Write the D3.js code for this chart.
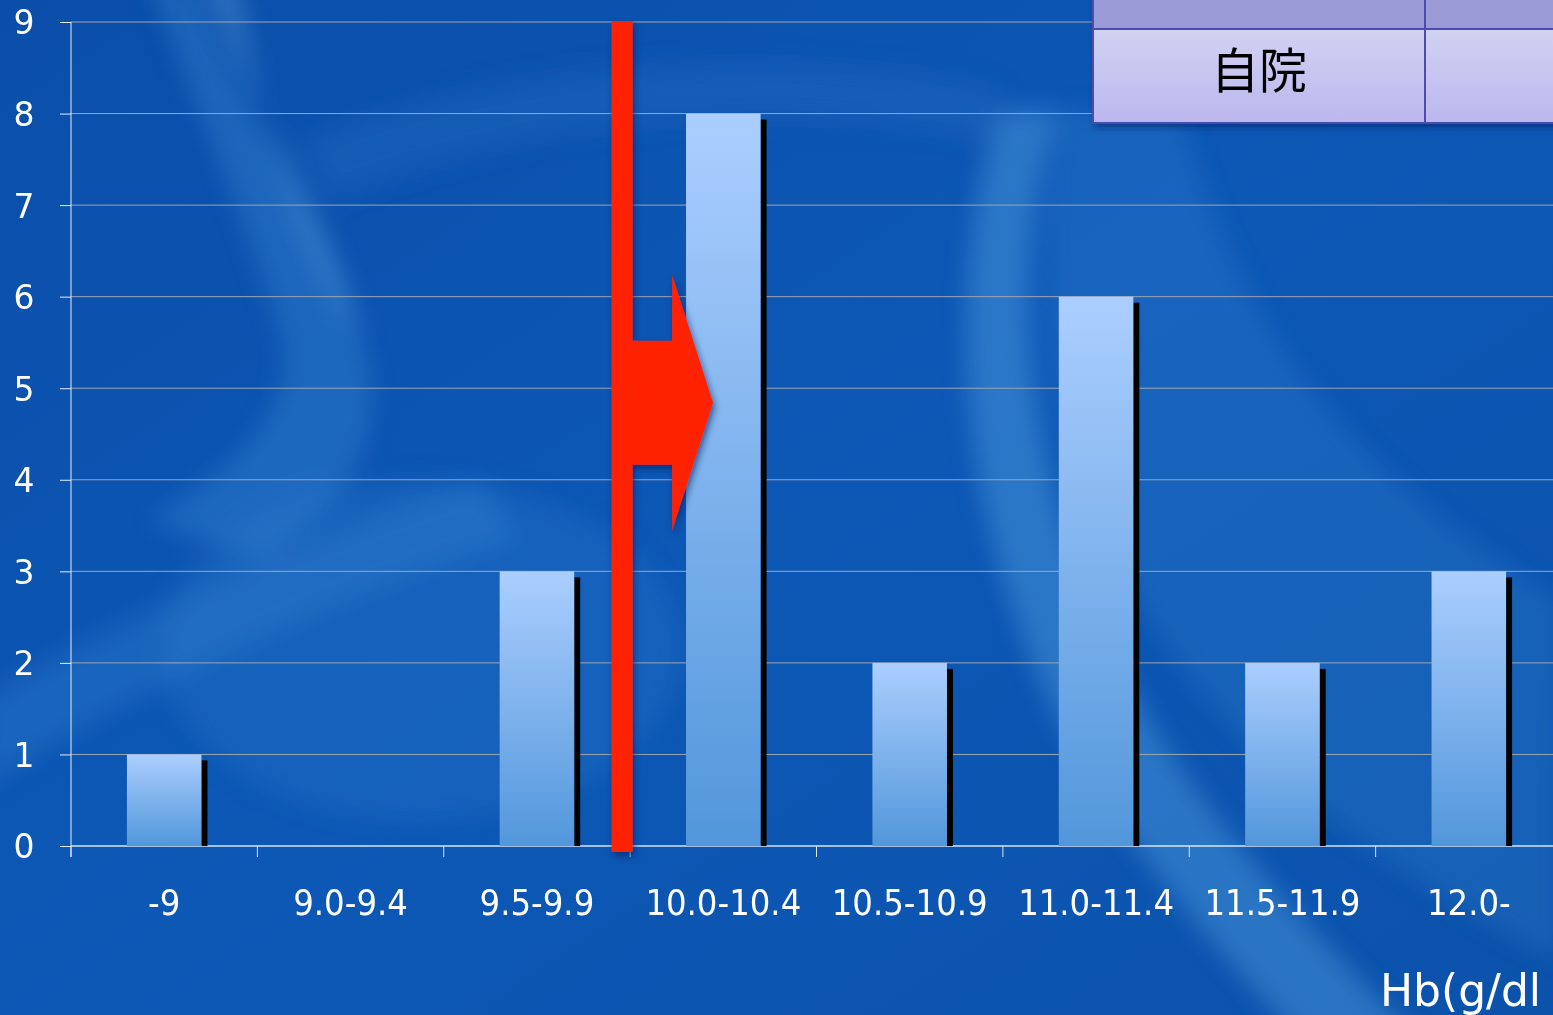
<!DOCTYPE html>
<html>
<head>
<meta charset="utf-8">
<script src="https://cdn.jsdelivr.net/npm/d3@7"></script>
<style>
  html, body { margin: 0; padding: 0; background: #0c56b2; overflow: hidden; }
  svg { display: block; }
</style>
</head>
<body>
<div id="chart"></div>
<script>
const categories = ["-9", "9.0-9.4", "9.5-9.9", "10.0-10.4", "10.5-10.9", "11.0-11.4", "11.5-11.9", "12.0-"];
const counts = [1, 0, 3, 8, 2, 6, 2, 3];
const yTicks = [0, 1, 2, 3, 4, 5, 6, 7, 8, 9];
const axisTitle = "Hb(g/dl";
const tableLabel = "自院";

const drawChart = () => {
  const size = { width: 1553, height: 1015 };
  const plot = { left: 71, right: 1562, top: 22, bottom: 846 };

  const svg = d3.select("#chart")
    .append("svg")
    .attr("width", size.width)
    .attr("height", size.height);

  const defs = svg.append("defs");
  const bg = defs.append("linearGradient").attr("id", "bg")
    .attr("x1", 0).attr("y1", 0).attr("x2", 1).attr("y2", 1);
  bg.append("stop").attr("offset", 0).attr("stop-color", "#0a4ea9");
  bg.append("stop").attr("offset", 0.5).attr("stop-color", "#0d58b6");
  bg.append("stop").attr("offset", 1).attr("stop-color", "#0b52ab");

  const barGrad = defs.append("linearGradient").attr("id", "bar")
    .attr("x1", 0).attr("y1", 0).attr("x2", 0).attr("y2", 1);
  barGrad.append("stop").attr("offset", 0).attr("stop-color", "#abcefe");
  barGrad.append("stop").attr("offset", 1).attr("stop-color", "#5297db");

  const rowGrad = defs.append("linearGradient").attr("id", "row")
    .attr("x1", 0).attr("y1", 0).attr("x2", 0).attr("y2", 1);
  rowGrad.append("stop").attr("offset", 0).attr("stop-color", "#d2d2f3");
  rowGrad.append("stop").attr("offset", 1).attr("stop-color", "#bbb7ee");

  const blur = defs.append("filter").attr("id", "blur")
    .attr("x", "-20%").attr("y", "-20%").attr("width", "140%").attr("height", "140%");
  blur.append("feGaussianBlur").attr("stdDeviation", 12);

  const shadow = defs.append("filter").attr("id", "shadow")
    .attr("x", "-10%").attr("y", "-10%").attr("width", "130%").attr("height", "140%");
  shadow.append("feDropShadow").attr("dx", 2).attr("dy", 4)
    .attr("stdDeviation", 3).attr("flood-color", "#002060").attr("flood-opacity", 0.6);

  // background with soft swirls
  svg.append("rect").attr("width", size.width).attr("height", size.height).attr("fill", "url(#bg)");
  const swirls = svg.append("g").attr("filter", "url(#blur)");
  swirls.append("path")
    .attr("d", "M190,-20 C240,120 330,220 365,350 C390,450 330,520 260,560 L150,520 C250,460 300,400 280,330 C250,230 200,120 150,-20 Z")
    .attr("fill", "#5fb0f0").attr("opacity", 0.22);
  swirls.append("path")
    .attr("d", "M200,-20 C260,120 340,240 360,340 C300,240 260,140 240,-20 Z")
    .attr("fill", "#8fd0ff").attr("opacity", 0.25);
  swirls.append("ellipse")
    .attr("cx", 420).attr("cy", 650).attr("rx", 260).attr("ry", 170)
    .attr("fill", "#2f80d0").attr("opacity", 0.25);
  swirls.append("path")
    .attr("d", "M-20,700 C150,600 350,520 480,480 L520,540 C380,580 150,680 -20,790 Z")
    .attr("fill", "#4aa0e8").attr("opacity", 0.2);
  swirls.append("path")
    .attr("d", "M1000,110 C950,250 950,480 1040,680 C1100,820 1200,930 1300,1040 L1420,1040 C1280,900 1150,760 1090,600 C1020,420 1010,250 1060,110 Z")
    .attr("fill", "#6fc0f4").attr("opacity", 0.3);
  swirls.append("path")
    .attr("d", "M1060,110 C1030,300 1060,480 1150,620 C1250,780 1400,880 1560,960 L1560,600 C1400,500 1250,380 1180,110 Z")
    .attr("fill", "#3f90dc").attr("opacity", 0.22);
  swirls.append("path")
    .attr("d", "M300,140 C500,60 800,40 1000,90 L990,140 C800,100 560,110 330,200 Z")
    .attr("fill", "#2a78cc").attr("opacity", 0.25);

  const y = d3.scaleLinear().domain([0, 9]).range([plot.bottom, plot.top]);
  const x = d3.scaleBand()
    .domain(categories)
    .range([plot.left, plot.right])
    .paddingInner(0.6)
    .paddingOuter(0.3);
  const gap = x.step() * x.paddingInner() / 2;
  const edge = c => x(c) - gap;

  // gridlines
  svg.append("g")
    .selectAll("line")
    .data(yTicks.filter(t => t > 0))
    .join("line")
    .attr("x1", plot.left).attr("x2", size.width)
    .attr("y1", d => y(d)).attr("y2", d => y(d))
    .attr("stroke", "#9ea6b0").attr("stroke-width", 1);

  // y axis
  const yAxis = svg.append("g")
    .attr("transform", `translate(${plot.left},0)`)
    .call(d3.axisLeft(y).tickValues(yTicks).tickSize(11).tickPadding(0).tickFormat(d3.format("d")));
  yAxis.select(".domain").attr("stroke", "#e6eef8").attr("d", `M0,${plot.top}V${plot.bottom + 11}`);
  yAxis.selectAll(".tick line").attr("stroke", "#e6eef8");
  yAxis.selectAll(".tick text")
    .attr("x", -47).attr("dy", "0.36em")
    .attr("text-anchor", "middle")
    .attr("fill", "#ffffff")
    .style("font-family", "'DejaVu Sans', Verdana, sans-serif")
    .style("font-size", "33px");

  // x axis
  const xg = svg.append("g").attr("transform", `translate(0,${plot.bottom})`);
  xg.append("line").attr("x1", plot.left).attr("x2", size.width)
    .attr("stroke", "#d8e4f2").attr("stroke-width", 1.5);
  xg.selectAll(".xtick")
    .data(categories)
    .join("line")
    .attr("class", "xtick")
    .attr("x1", d => edge(d)).attr("x2", d => edge(d))
    .attr("y1", 0).attr("y2", 11)
    .attr("stroke", "#d8e4f2");
  xg.selectAll(".xlabel")
    .data(categories)
    .join("text")
    .attr("class", "xlabel")
    .attr("x", d => x(d) + x.bandwidth() / 2)
    .attr("y", 69)
    .attr("text-anchor", "middle")
    .attr("fill", "#ffffff")
    .style("font-family", "'DejaVu Sans Condensed', 'DejaVu Sans', sans-serif")
    .style("font-size", "36px")
    .text(d => d);

  // bars with dark side shadow
  const bars = svg.append("g");
  const data = categories.map((c, i) => ({ c, v: counts[i] })).filter(d => d.v > 0);
  bars.selectAll(".side")
    .data(data)
    .join("rect")
    .attr("class", "side")
    .attr("x", d => x(d.c) + x.bandwidth())
    .attr("y", d => y(d.v) + 6)
    .attr("width", 6)
    .attr("height", d => y(0) - y(d.v) - 6)
    .attr("fill", "#000000");
  bars.selectAll(".bar")
    .data(data)
    .join("rect")
    .attr("class", "bar")
    .attr("x", d => x(d.c))
    .attr("y", d => y(d.v))
    .attr("width", x.bandwidth())
    .attr("height", d => y(0) - y(d.v))
    .attr("fill", "url(#bar)");

  // red marker line and arrow
  const lineX = edge(categories[3]) - 8;
  const ann = svg.append("g").attr("filter", "url(#shadow)");
  ann.append("rect")
    .attr("x", lineX - 10.5).attr("y", y(9) - 1)
    .attr("width", 21).attr("height", y(0) - y(9) + 7)
    .attr("fill", "#ff2400");
  const tipY = y(4.84);
  const shaftL = lineX + 10, headX = lineX + 50, tipX = lineX + 91;
  ann.append("path")
    .attr("d", `M${shaftL},${tipY - 62} H${headX} V${tipY - 128} L${tipX},${tipY} L${headX},${tipY + 128} V${tipY + 62} H${shaftL} Z`)
    .attr("fill", "#ff2400");

  // table fragment top-right
  const tbl = svg.append("g").attr("filter", "url(#shadow)");
  const tx = 1093, colX = 1425, r1 = 29, r2 = 123;
  tbl.append("rect").attr("x", tx).attr("y", -2).attr("width", size.width - tx + 5).attr("height", r1 + 2)
    .attr("fill", "#9b9cd7");
  tbl.append("rect").attr("x", tx).attr("y", r1).attr("width", size.width - tx + 5).attr("height", r2 - r1)
    .attr("fill", "url(#row)");
  const borders = svg.append("g").attr("stroke", "#4b4bb0").attr("stroke-width", 2).attr("fill", "none");
  borders.append("path").attr("d", `M${tx},-2 V${r2} H${size.width + 5}`);
  borders.append("path").attr("d", `M${tx},${r1} H${size.width + 5}`);
  borders.append("path").attr("d", `M${colX},-2 V${r2}`);
  svg.append("text")
    .attr("x", (tx + colX) / 2).attr("y", 88)
    .attr("text-anchor", "middle")
    .attr("fill", "#000000")
    .style("font-family", "'Noto Sans CJK JP', sans-serif")
    .style("font-size", "48px")
    .text(tableLabel);

  // axis title
  svg.append("text")
    .attr("x", 1380).attr("y", 1006)
    .attr("fill", "#ffffff")
    .style("font-family", "'DejaVu Sans', sans-serif")
    .style("font-size", "44px")
    .text(axisTitle);
};

window.onload = drawChart;
</script>
</body>
</html>
